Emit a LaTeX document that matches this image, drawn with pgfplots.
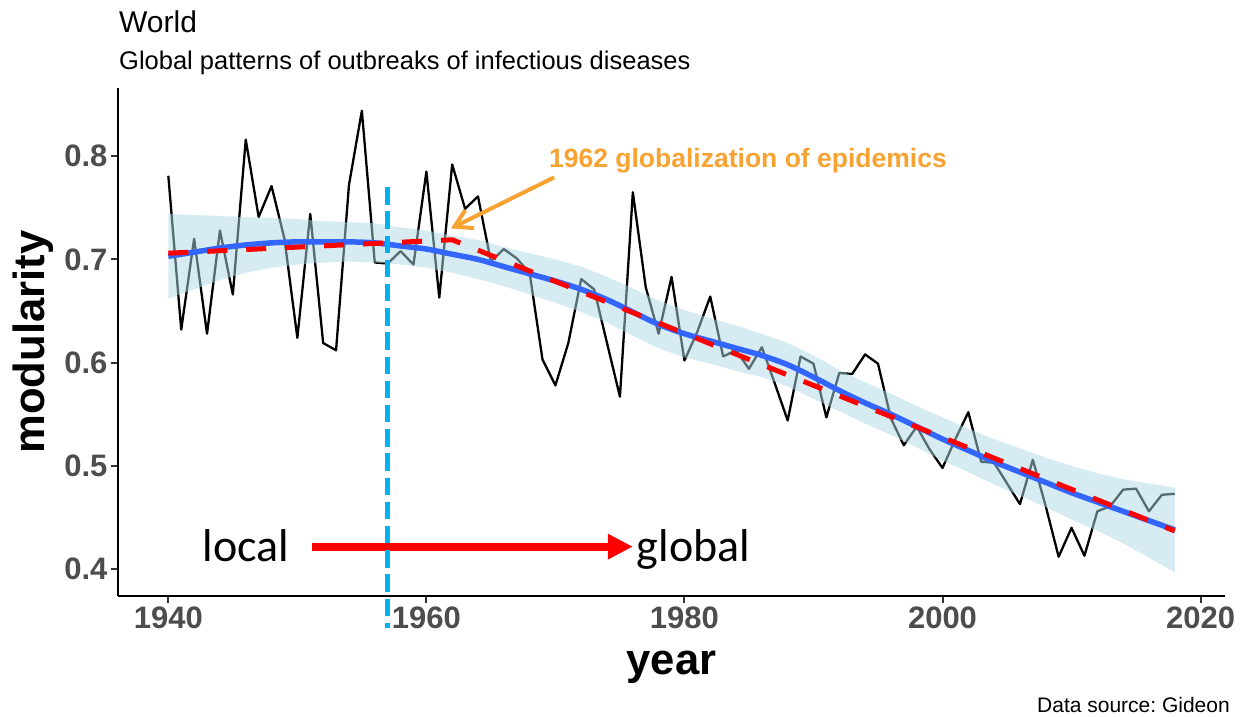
\documentclass[border=0pt]{standalone}
\usepackage{pgfplots}
\pgfplotsset{compat=1.18}
\usepackage{fontspec}
\setmainfont{Liberation Sans}
\newfontfamily\calibri{Carlito}
\usetikzlibrary{arrows.meta}
\definecolor{cyanline}{RGB}{0,176,240}
\definecolor{loessblue}{HTML}{3366FF}
\definecolor{ribbon}{RGB}{173,216,230}
\definecolor{orangec}{RGB}{248,162,50}
\definecolor{tickgrey}{HTML}{4D4D4D}
\definecolor{tickdark}{HTML}{333333}
\frenchspacing
\begin{document}
\begin{tikzpicture}
\path[use as bounding box] (-118pt,-121pt) rectangle (1122pt,596pt);
\begin{axis}[
  at={(0pt,0pt)}, anchor=south west,
  scale only axis, width=1107pt, height=508pt,
  xmin=1936.1, xmax=2021.9, ymin=0.374, ymax=0.866,
  axis lines=left, axis line style={-, line width=2pt, black},
  xtick={1940,1960,1980,2000,2020}, ytick={0.4,0.5,0.6,0.7,0.8},
  tick align=outside, major tick length=7pt,
  tick style={line width=2pt, color=tickdark},
  ticklabel style={font=\fontsize{31}{36}\selectfont\bfseries, text=tickgrey},
  /pgf/number format/assume math mode=true,
  x tick label style={/pgf/number format/1000 sep={}},
  y tick label style={/pgf/number format/fixed, /pgf/number format/fixed zerofill, /pgf/number format/precision=1},
  clip=false,
]
% observed modularity
\addplot[black, line width=2.3pt, line join=round] coordinates {
(1940,0.781) (1941,0.632) (1942,0.720) (1943,0.628) (1944,0.728) (1945,0.666)
(1946,0.816) (1947,0.741) (1948,0.771) (1949,0.720) (1950,0.624) (1951,0.744)
(1952,0.619) (1953,0.612) (1954,0.772) (1955,0.844) (1956,0.697) (1957,0.696)
(1958,0.708) (1959,0.695) (1960,0.785) (1961,0.663) (1962,0.792) (1963,0.749)
(1964,0.761) (1965,0.698) (1966,0.710) (1967,0.701) (1968,0.687) (1969,0.603)
(1970,0.578) (1971,0.619) (1972,0.681) (1973,0.671) (1974,0.619) (1975,0.567)
(1976,0.765) (1977,0.673) (1978,0.628) (1979,0.683) (1980,0.602) (1981,0.630)
(1982,0.664) (1983,0.606) (1984,0.612) (1985,0.594) (1986,0.615) (1987,0.580)
(1988,0.544) (1989,0.606) (1990,0.599) (1991,0.547) (1992,0.590) (1993,0.589)
(1994,0.608) (1995,0.599) (1996,0.546) (1997,0.520) (1998,0.538) (1999,0.516)
(2000,0.498) (2001,0.526) (2002,0.552) (2003,0.504) (2004,0.503) (2005,0.483)
(2006,0.463) (2007,0.506) (2008,0.461) (2009,0.412) (2010,0.440) (2011,0.413)
(2012,0.456) (2013,0.461) (2014,0.477) (2015,0.478) (2016,0.456) (2017,0.472)
(2018,0.473)};
% confidence ribbon
\addplot[draw=none, fill=ribbon, fill opacity=0.5] coordinates {
(1940,0.744) (1942,0.743) (1944,0.742) (1946,0.741) (1948,0.740) (1950,0.739)
(1952,0.737) (1954,0.736) (1956,0.735) (1958,0.731) (1960,0.728) (1962,0.723)
(1964,0.719) (1966,0.712) (1968,0.706) (1970,0.700) (1972,0.693) (1974,0.683)
(1976,0.672) (1978,0.660) (1980,0.651) (1982,0.643) (1984,0.636) (1986,0.628)
(1988,0.619) (1990,0.607) (1992,0.593) (1994,0.581) (1996,0.570) (1998,0.558)
(2000,0.547) (2002,0.536) (2004,0.526) (2006,0.517) (2008,0.508) (2010,0.500)
(2012,0.493) (2014,0.487) (2016,0.483) (2018,0.479)
(2018,0.397) (2016,0.411) (2014,0.425) (2012,0.437) (2010,0.448) (2008,0.460)
(2006,0.471) (2004,0.482) (2002,0.494) (2000,0.505) (1998,0.518) (1996,0.530)
(1994,0.541) (1992,0.553) (1990,0.565) (1988,0.577) (1986,0.586) (1984,0.592)
(1982,0.599) (1980,0.605) (1978,0.614) (1976,0.626) (1974,0.639) (1972,0.649)
(1970,0.658) (1968,0.666) (1966,0.674) (1964,0.681) (1962,0.687) (1960,0.692)
(1958,0.695) (1956,0.697) (1954,0.698) (1952,0.697) (1950,0.695) (1948,0.692)
(1946,0.687) (1944,0.680) (1942,0.671) (1940,0.662)} -- cycle;
% loess fit
\addplot[loessblue, line width=5.5pt, smooth] coordinates {
(1940,0.703) (1942,0.707) (1944,0.711) (1946,0.714) (1948,0.716) (1950,0.717)
(1952,0.717) (1954,0.717) (1956,0.716) (1958,0.713) (1960,0.710) (1962,0.705)
(1964,0.700) (1966,0.693) (1968,0.686) (1970,0.679) (1972,0.671) (1974,0.661)
(1976,0.649) (1978,0.637) (1980,0.628) (1982,0.621) (1984,0.614) (1986,0.607)
(1988,0.598) (1990,0.586) (1992,0.573) (1994,0.561) (1996,0.550) (1998,0.538)
(2000,0.526) (2002,0.515) (2004,0.504) (2006,0.494) (2008,0.484) (2010,0.474)
(2012,0.465) (2014,0.456) (2016,0.447) (2018,0.438)};
% segmented regression
\addplot[red, line width=5pt, dash pattern=on 20pt off 19pt] coordinates {
(1940,0.706) (1962,0.719) (2018,0.437)};
% local -> global arrow
\addplot[red, line width=8pt, -{Triangle[length=25pt,width=24pt]}] coordinates {
(1951.1,0.4218) (1976.0,0.4218)};
% 1957 marker
\addplot[cyanline, line width=5.5pt, dash pattern=on 17.5pt off 6.7pt] coordinates {
(1957,0.770) (1957,0.343)};
% annotation arrow
\addplot[orangec, line width=4pt, -{Straight Barb[length=17pt,width=20pt]}] coordinates {
(1969.9,0.7794) (1961.9,0.730)};
\node[anchor=base west, inner sep=0pt, font=\bfseries\fontsize{26.5}{30}\selectfont, text=orangec] at (axis cs:1969.5,0.789) {1962 globalization of epidemics};
\node[anchor=base east, inner sep=0pt, font=\calibri\fontsize{46}{50}\selectfont] at (axis cs:1949.4,0.4073) {local};
\node[anchor=base west, inner sep=0pt, font=\calibri\fontsize{46}{50}\selectfont] at (axis cs:1976.3,0.4073) {global};
\end{axis}
\node[anchor=base west, inner sep=0pt, font=\fontsize{30}{34}\selectfont] at (1pt,563.7pt) {World};
\node[anchor=base west, inner sep=0pt, font=\fontsize{25.5}{30}\selectfont] at (1pt,526pt) {Global patterns of outbreaks of infectious diseases};
\node[anchor=base, rotate=90, inner sep=0pt, font=\bfseries\fontsize{43.6}{48}\selectfont] at (-73.5pt,254pt) {modularity};
\node[anchor=base, inner sep=0pt, font=\bfseries\fontsize{43.6}{48}\selectfont] at (553.5pt,-79pt) {year};
\node[anchor=base east, inner sep=0pt, font=\fontsize{21}{25}\selectfont] at (1112pt,-117pt) {Data source: Gideon};
\end{tikzpicture}
\end{document}
